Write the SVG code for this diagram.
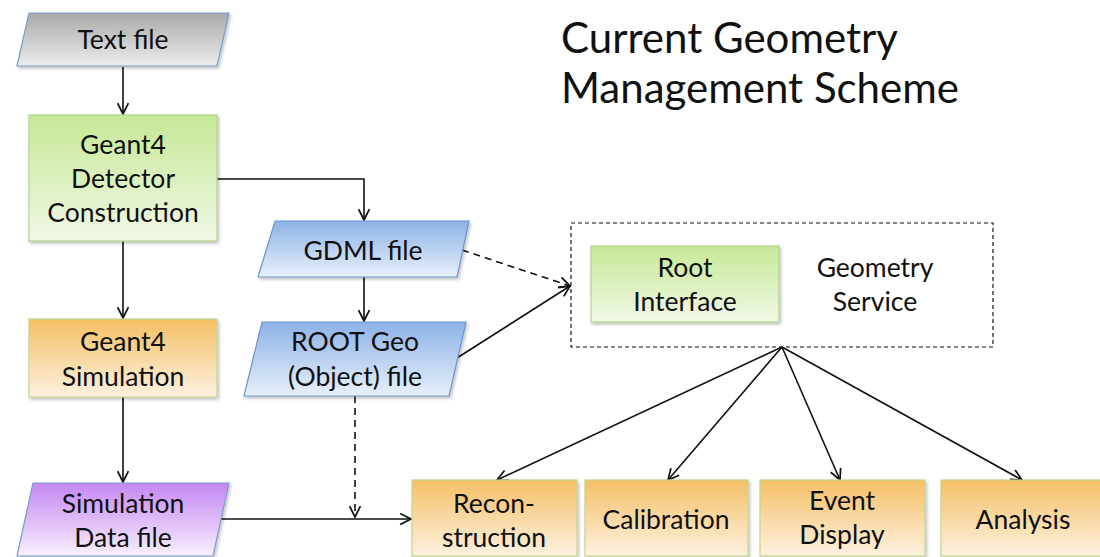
<svg xmlns="http://www.w3.org/2000/svg" width="1100" height="557" viewBox="0 0 1100 557">
<style>
text{font-family:Lato,"Open Sans","Liberation Sans",sans-serif;fill:#111;text-anchor:middle}
.t{font-size:26.5px}
.title{font-size:42px;text-anchor:start}
.ln{fill:none;stroke:#111;stroke-width:1.6}
.dash{stroke-dasharray:7 5}
.gray{fill:url(#gGray);stroke:#7a9cc6;stroke-width:1.2}
.green{fill:url(#gGreen);stroke:#b3d48c;stroke-width:1.2}
.orange{fill:url(#gOrange);stroke:#c4d58e;stroke-width:1.2}
.blue{fill:url(#gBlue);stroke:#6d95cc;stroke-width:1.2}
.purple{fill:url(#gPurple);stroke:#7a9cc6;stroke-width:1.2}
.shadow{filter:url(#sh)}
</style>
<defs>
<linearGradient id="gGray" x1="0" y1="0" x2="0" y2="1"><stop offset="0" stop-color="#a9a9a9"/><stop offset="1" stop-color="#ececec"/></linearGradient>
<linearGradient id="gGreen" x1="0" y1="0" x2="0" y2="1"><stop offset="0" stop-color="#c6e896"/><stop offset="1" stop-color="#f1f8e6"/></linearGradient>
<linearGradient id="gOrange" x1="0" y1="0" x2="0" y2="1"><stop offset="0" stop-color="#f5c065"/><stop offset="1" stop-color="#fcf1e0"/></linearGradient>
<linearGradient id="gBlue" x1="0" y1="0" x2="0" y2="1"><stop offset="0" stop-color="#8cb2e6"/><stop offset="1" stop-color="#e8f0fb"/></linearGradient>
<linearGradient id="gPurple" x1="0" y1="0" x2="0" y2="1"><stop offset="0" stop-color="#c487f2"/><stop offset="1" stop-color="#f7f0fd"/></linearGradient>
<filter id="sh" x="-10%" y="-10%" width="125%" height="130%"><feDropShadow dx="1.5" dy="2" stdDeviation="1.5" flood-color="#000" flood-opacity="0.25"/></filter>
<marker id="ah" viewBox="0 0 12 12" refX="11" refY="6" markerWidth="13" markerHeight="13" markerUnits="userSpaceOnUse" orient="auto"><path d="M1,1 L11,6 L1,11" fill="none" stroke="#111" stroke-width="1.6"/></marker>
</defs>

<text class="title" x="561" y="53">Current Geometry</text>
<text class="title" x="561" y="103">Management Scheme</text>

<g id="connectors">
<path class="ln" d="M123,67 V114" marker-end="url(#ah)"/>
<path class="ln" d="M217,179 H364 V220" marker-end="url(#ah)"/>
<path class="ln" d="M123,241 V318" marker-end="url(#ah)"/>
<path class="ln" d="M123,397 V482" marker-end="url(#ah)"/>
<path class="ln" d="M364,277 V321" marker-end="url(#ah)"/>
<path class="ln dash" d="M462,250 L570,286" marker-end="url(#ah)"/>
<path class="ln" d="M457,358 L570,286" marker-end="url(#ah)"/>
<path class="ln dash" d="M355,396 V517" marker-end="url(#ah)"/>
<path class="ln" d="M221,519 H411" marker-end="url(#ah)"/>
<path class="ln" d="M782,347 L497,480" marker-end="url(#ah)"/>
<path class="ln" d="M782,347 L668,480" marker-end="url(#ah)"/>
<path class="ln" d="M782,347 L840,480" marker-end="url(#ah)"/>
<path class="ln" d="M782,347 L1022,480" marker-end="url(#ah)"/>
</g>

<g id="text-file">
<polygon class="gray shadow" points="29,13 229,13 217,66 17,66"/>
<text class="t" x="123" y="49">Text file</text>
</g>

<g id="detector-construction">
<rect class="green shadow" x="29" y="115" width="188" height="126"/>
<text class="t" x="123" y="154">Geant4</text>
<text class="t" x="123" y="188">Detector</text>
<text class="t" x="123" y="222">Construction</text>
</g>

<g id="geant4-simulation">
<rect class="orange shadow" x="29" y="319" width="188" height="78"/>
<text class="t" x="123" y="351">Geant4</text>
<text class="t" x="123" y="386">Simulation</text>
</g>

<g id="simulation-data-file">
<polygon class="purple shadow" points="33,483 229,483 213,556 17,556"/>
<text class="t" x="123" y="513">Simulation</text>
<text class="t" x="123" y="547">Data file</text>
</g>

<g id="gdml-file">
<polygon class="blue shadow" points="275,221 469,221 457,277 258,277"/>
<text class="t" x="363" y="260">GDML file</text>
</g>

<g id="root-geo-file">
<polygon class="blue shadow" points="262,322 466,322 449,396 244,396"/>
<text class="t" x="355" y="351">ROOT Geo</text>
<text class="t" x="355" y="386">(Object) file</text>
</g>

<g id="geometry-service">
<rect x="571" y="223" width="422" height="124" fill="none" stroke="#111" stroke-width="1.2" stroke-dasharray="4 3"/>
<text class="t" x="875" y="277">Geometry</text>
<text class="t" x="875" y="311">Service</text>
</g>

<g id="root-interface">
<rect class="green shadow" x="591" y="246" width="188" height="76"/>
<text class="t" x="685" y="277">Root</text>
<text class="t" x="685" y="311">Interface</text>
</g>

<g id="reconstruction">
<rect class="orange shadow" x="412" y="480" width="165" height="76"/>
<text class="t" x="494" y="513">Recon-</text>
<text class="t" x="494" y="547">struction</text>
</g>

<g id="calibration">
<rect class="orange shadow" x="585" y="480" width="163" height="76"/>
<text class="t" x="666" y="529">Calibration</text>
</g>

<g id="event-display">
<rect class="orange shadow" x="760" y="480" width="165" height="76"/>
<text class="t" x="842" y="510">Event</text>
<text class="t" x="842" y="544">Display</text>
</g>

<g id="analysis">
<rect class="orange shadow" x="941" y="480" width="166" height="76"/>
<text class="t" x="1023" y="529">Analysis</text>
</g>
</svg>
